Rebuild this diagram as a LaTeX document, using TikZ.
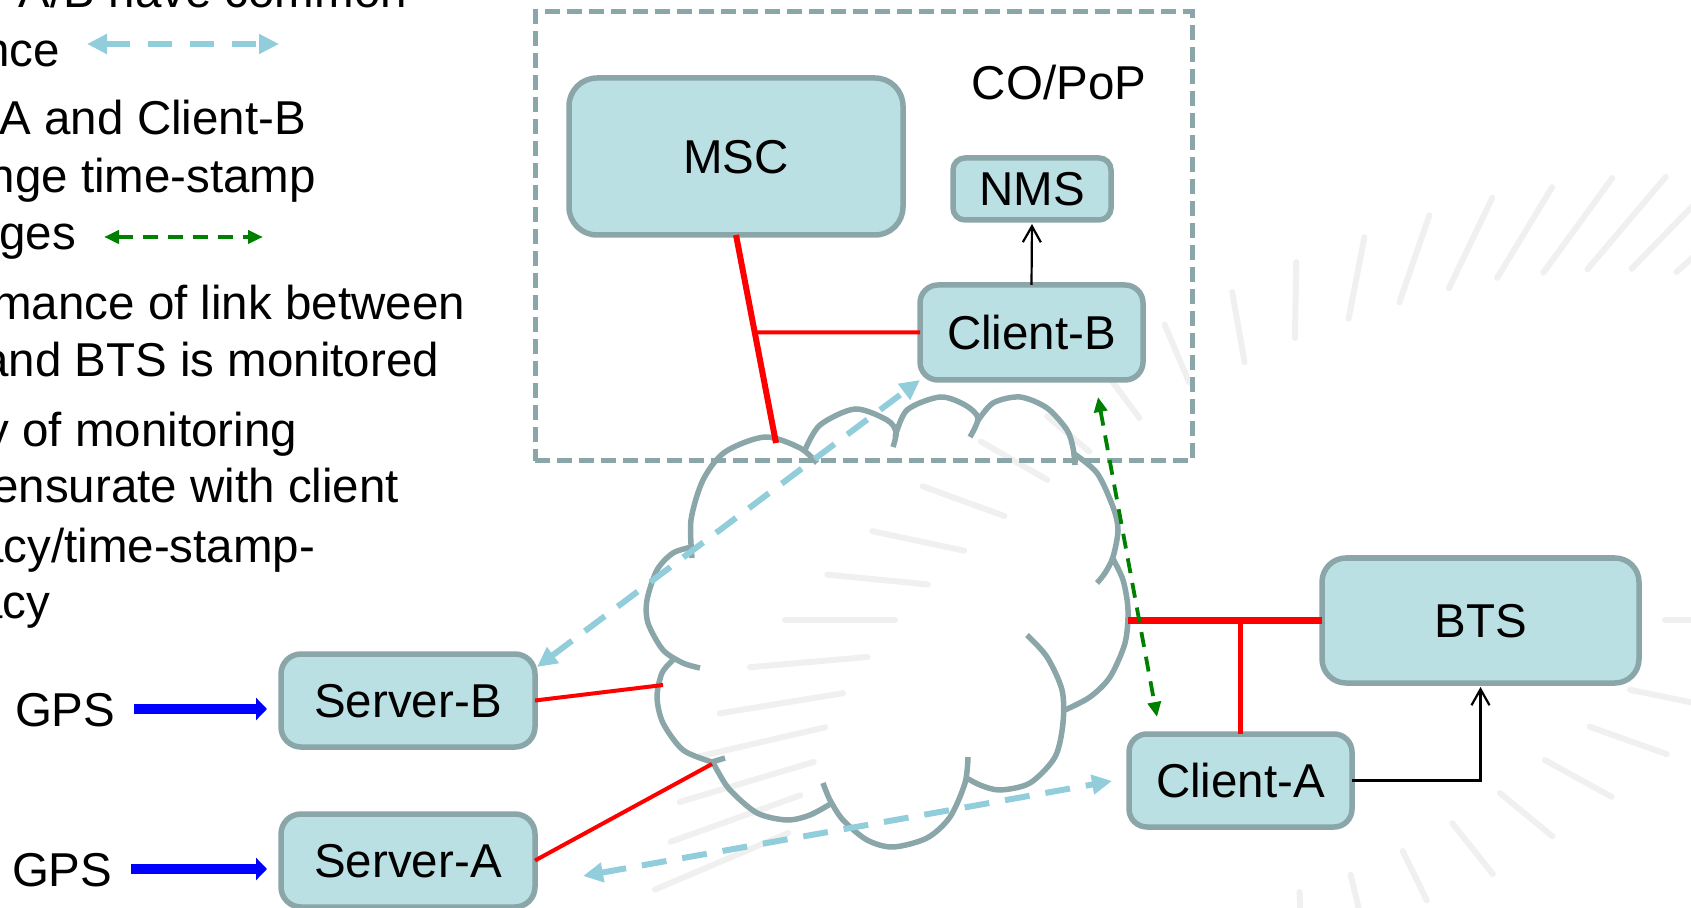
\documentclass[tikz,border=0pt]{standalone}
\usepackage{fontspec}
\setmainfont{Liberation Sans}
\usetikzlibrary{arrows.meta,calc}
\definecolor{boxfill}{HTML}{BBE0E3}
\definecolor{boxline}{HTML}{8AA6A8}
\definecolor{aqua}{HTML}{92CDDC}
\definecolor{stampgreen}{HTML}{008000}
\definecolor{burst}{HTML}{F0F0F0}
\begin{document}
\begin{tikzpicture}[x=0.5pt,y=-0.5pt,
  txt/.style={font=\fontsize{23.75}{28.5}\selectfont, inner sep=0pt, outer sep=0pt,
              text height=17pt, text depth=0pt},
  para/.style={txt, anchor=base east},
  unit/.style={txt, draw=boxline, fill=boxfill, line width=2.75pt},
  redlink/.style={draw=red, line width=#1},
  sync/.style={draw=aqua, line width=3pt, dash pattern=on 12.5pt off 8pt,
               {Triangle[length=10pt,width=9.5pt]}-{Triangle[length=10pt,width=9.5pt]}},
  stamp/.style={draw=stampgreen, line width=1.9pt, dash pattern=on 7.5pt off 5pt,
               {Triangle[length=7.5pt,width=6.5pt]}-{Triangle[length=7.5pt,width=6.5pt]}},
  gpsfeed/.style={draw=blue, line width=5pt, -{Triangle[length=5.5pt,width=11pt]}},
  mgmt/.style={draw=black, line width=1.1pt, -{Straight Barb[length=8pt,width=9pt]}},
  cloudarc/.style={draw=boxline, line width=2.75pt},
  burstline/.style={draw=burst, line width=3pt, line cap=round},
  site/.style={draw=boxline, line width=2.5pt, dash pattern=on 7.5pt off 3.5pt,
               inner sep=0pt, outer sep=0pt}
]
\useasboundingbox (0,0) rectangle (1691,908);

% faint radial background strokes
\begin{scope}[shift={(1290,620)}]
\foreach \s/\ri/\ro in {-42/520/655,-45.8/490/618,-49.7/460/581,-53.9/430/547,-58.8/400/506,
  -64.4/368/468,-71/336/428,-79/307/390,-89/282/358,-100/262/333,-113/258/321,
  -126.7/252/300,-140/262/317,-150/280/357,-160/304/391,-168/333/427,-174.4/364/465,
  -180/395/505,-185/424/542,-189.3/453/578,-193/477/606,-196.6/497/637,-199.7/520/658,
  -203/545/690,0/375/470,11.6/347/425,19.6/318/400,28.8/291/367,39.5/272/340,
  51.4/260/325,64/257/312,76.6/262/298,88/272/300}
  \draw[burstline] (\s:\ri) -- (\s:\ro);
\end{scope}

% explanatory text
\node[para] (t1) at (407,8) {A/B have common};
\node[para] (t2) at (60,67) {nce};
\node[para] (t3) at (306,135) {A and Client-B};
\node[para] (t4) at (316,193) {nge time-stamp};
\node[para] (t5) at (76,250) {ges};
\node[para] (t6) at (465,320) {mance of link between};
\node[para] (t7) at (439,377) {and BTS is monitored};
\node[para] (t8) at (297,447) {y of monitoring};
\node[para] (t9) at (399,503) {ensurate with client};
\node[para] (t10) at (315,562) {acy/time-stamp-};
\node[para] (t11) at (50,618) {acy};

% legend arrows
\coordinate (lgs1) at (87,44);
\coordinate (lgs2) at (279,44);
\draw[sync, dash pattern=on 12pt off 9pt] (lgs1) -- (lgs2);
\coordinate (lgt1) at (104,237);
\coordinate (lgt2) at (263,237);
\draw[stamp] (lgt1) -- (lgt2);

% central office / point of presence
\node[site, minimum width=328.5pt, minimum height=224.5pt] (pop) at (863.5,236.5) {};
\node[txt] (copop) at (1059,83) {CO/PoP};

% network cloud
\draw[cloudarc] plot[smooth] coordinates {(692,558) (691,520) (703,480) (725,452) (765,437) (800,448) (817,463)};
\draw[cloudarc] plot[smooth] coordinates {(805,450) (820,425) (855,409) (887,420) (896,432) (893,447)};
\draw[cloudarc] plot[smooth] coordinates {(895,437) (907,410) (940,397) (965,405) (978,418) (970,437)};
\draw[cloudarc] plot[smooth] coordinates {(977,422) (993,403) (1020,397) (1047,408) (1067,430) (1073,448) (1075,465)};
\draw[cloudarc] plot[smooth] coordinates {(1073,453) (1097,473) (1113,507) (1118,530) (1113,557) (1105,573) (1097,583)};
\draw[cloudarc] plot[smooth] coordinates {(1112,557) (1123,580) (1128,610) (1125,643) (1110,677) (1090,697) (1065,710)};
\draw[cloudarc] plot[smooth] coordinates {(1027,635) (1047,657) (1062,690) (1063,723) (1055,757) (1030,783) (1000,790) (980,785) (965,777)};
\draw[cloudarc] plot[smooth] coordinates {(968,757) (965,783) (950,817) (927,838) (893,847) (867,840) (843,820) (830,800) (823,783)};
\draw[cloudarc] plot[smooth] coordinates {(832,803) (810,815) (787,820) (757,813) (730,790) (717,770) (712,760)};
\draw[cloudarc] (712,762) -- (725,758);
\draw[cloudarc] plot[smooth] coordinates {(712,762) (683,750) (663,723) (657,697) (662,673) (673,660)};
\draw[cloudarc] plot[smooth] coordinates {(700,668) (683,663) (663,650) (648,623) (647,600) (657,570) (673,553) (692,547)};

% network elements
\node[unit, minimum width=167pt, minimum height=78.5pt, rounded corners=14pt] (msc) at (736,156.5) {MSC};
\node[unit, minimum width=79pt, minimum height=31pt, rounded corners=6pt] (nms) at (1032,189) {NMS};
\node[unit, minimum width=111.5pt, minimum height=47.5pt, rounded corners=9pt] (clb) at (1031.5,332.5) {Client-B};
\node[unit, minimum width=127pt, minimum height=46.5pt, rounded corners=10pt] (svb) at (408,700.5) {Server-B};
\node[unit, minimum width=127pt, minimum height=46.5pt, rounded corners=10pt] (sva) at (408,860.5) {Server-A};
\node[unit, minimum width=158.5pt, minimum height=62.5pt, rounded corners=12pt] (bts) at (1480.5,620.5) {BTS};
\node[unit, minimum width=111.5pt, minimum height=46.5pt, rounded corners=9pt] (cla) at (1240.5,780.5) {Client-A};

% GPS references
\node[txt, anchor=base west] (gpsb) at (15,726) {GPS};
\node[txt, anchor=base west] (gpsa) at (12,886) {GPS};
\draw[gpsfeed, shorten <=9.5pt, shorten >=7pt] (gpsb.east) -- (gpsb.east -| svb.west);
\draw[gpsfeed, shorten <=9.5pt, shorten >=7pt] (gpsa.east) -- (gpsa.east -| sva.west);

% links into the cloud
\coordinate (cmsc) at (776,443);
\coordinate (csvb) at (663,685);
\coordinate (csva) at (712,764);
\coordinate (cbts) at (1128,620.5);
\draw[redlink=3pt] (msc.south) -- (cmsc);
\coordinate (tapb) at (intersection of msc.south--cmsc and clb.west--clb.east);
\draw[redlink=2pt] (clb.west) -- (tapb);
\draw[redlink=2pt] (svb.east) -- (csvb);
\draw[redlink=2pt] (sva.east) -- (csva);
\draw[redlink=3.25pt] (cbts) -- (bts.west);
\coordinate (tapa) at (cla.north |- bts.west);
\draw[redlink=2.25pt] (tapa) -- (cla.north);

% monitoring reports
\draw[mgmt, shorten >=2pt] (clb.north) -- (nms.south);
\draw[mgmt, shorten >=2pt] (cla.east) -| (bts.south);

% common reference and time-stamp exchanges
\draw[sync] ($(svb.north east)+(2,13)$) -- (clb.south west);
\draw[sync] ($(sva.east)+(48,15.5)$) -- ($(cla.west)+(-17,0.5)$);
\draw[stamp] ($(clb.south)+(66.5,17)$) -- ($(cla.north)+(-83.5,-17)$);
\end{tikzpicture}
\end{document}
